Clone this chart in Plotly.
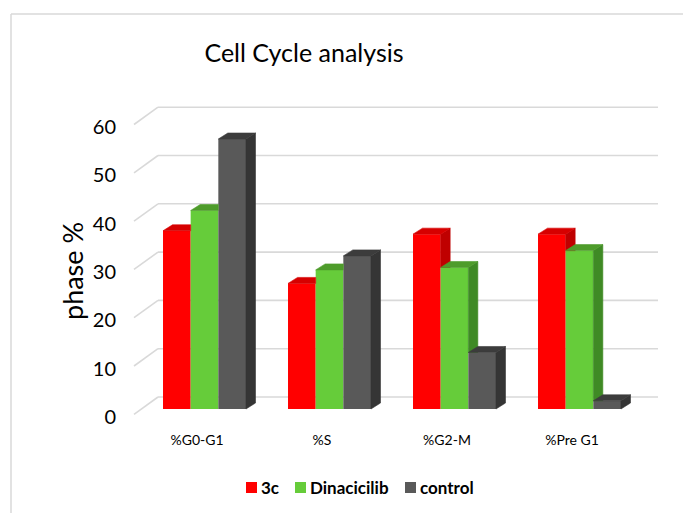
import plotly.graph_objects as go

# ---------------- data ----------------
categories = ["%G0-G1", "%S", "%G2-M", "%Pre G1"]
series_names = ["3c", "Dinacicilib", "control"]
vals_3c = [36.9, 26.0, 36.2, 36.2]
vals_dinaciclib = [41.1, 28.8, 29.3, 32.8]
vals_control = [55.9, 31.7, 11.7, 1.7]
y_ticks = [0, 10, 20, 30, 40, 50, 60]

series_values = [vals_3c, vals_dinaciclib, vals_control]

# ---------------- styling ----------------
front_colors = ["#FF0000", "#66CC3A", "#595959"]
side_colors = ["#BF0000", "#3F8A25", "#353535"]
top_colors = ["#D60000", "#4E9C2B", "#3C3C3C"]
grid_color = "#D9D9D9"
FONT = "Lato"

OFF = 8                                  # default page body margin
W, H = 691 - OFF, 513 - OFF              # figure size
# plot area in screen pixels
SL, SR, ST, SB = 119, 672, 90, 430
L, R, T, B = SL - OFF, W - (SR - OFF), ST - OFF, H - (SB - OFF)
PX_PER_UNIT = 4.83
BASE_PX = 409                            # screen pixel of value 0 on bar fronts
CAT0_PX, CAT_STEP = 204.5, 125.0

x_range = [(SL - CAT0_PX) / CAT_STEP, (SR - CAT0_PX) / CAT_STEP]
y_range = [(BASE_PX - SB) / PX_PER_UNIT, (BASE_PX - ST) / PX_PER_UNIT]

bar_w = 0.2213
group_half = 1.5 * bar_w
dx = 9.5 / CAT_STEP
dy = 6.0 / PX_PER_UNIT

fig = go.Figure()

# side & top faces
for k, vals in enumerate(series_values):
    nxt = series_values[k + 1] if k + 1 < len(series_values) else None
    sx, sy, tx, ty = [], [], [], []
    for i, v in enumerate(vals):
        x0 = i - group_half + k * bar_w
        x1 = x0 + bar_w
        vn = nxt[i] if nxt is not None else None
        if vn is None:
            sx += [x1, x1, x1 + dx, x1 + dx, x1, None]
            sy += [0, v, v + dy, dy, 0, None]
        elif v > vn:
            sx += [x1, x1, x1 + dx, x1 + dx, x1, None]
            sy += [vn, v, v + dy, vn, vn, None]
        if vn is not None and v < vn:
            tx += [x0, x1, x1, x0 + dx, x0, None]
            ty += [v, v, v + dy, v + dy, v, None]
        else:
            tx += [x0, x1, x1 + dx, x0 + dx, x0, None]
            ty += [v, v, v + dy, v + dy, v, None]
    if sx:
        fig.add_trace(go.Scatter(x=sx, y=sy, mode="lines", fill="toself",
                                 fillcolor=side_colors[k],
                                 line=dict(width=0.6, color=side_colors[k]),
                                 hoverinfo="skip", showlegend=False))
    fig.add_trace(go.Scatter(x=tx, y=ty, mode="lines", fill="toself",
                             fillcolor=top_colors[k],
                             line=dict(width=0.6, color=top_colors[k]),
                             hoverinfo="skip", showlegend=False))

# front faces
for k, vals in enumerate(series_values):
    fig.add_trace(go.Bar(
        x=list(range(len(categories))), y=vals, name=series_names[k],
        width=bar_w, offset=-group_half + k * bar_w,
        marker=dict(color=front_colors[k], line=dict(width=0)),
        showlegend=False,
    ))

# 3D gridlines
back_left = (158 - CAT0_PX) / CAT_STEP
back_right = (658 - CAT0_PX) / CAT_STEP
front_left = (134 - CAT0_PX) / CAT_STEP
back_off = (BASE_PX - 397) / PX_PER_UNIT
front_off = -1.1
shapes = []
for t in y_ticks:
    shapes.append(dict(type="line", xref="x", yref="y", layer="below",
                       x0=back_left, x1=back_right, y0=t + back_off, y1=t + back_off,
                       line=dict(color=grid_color, width=1.6)))
    shapes.append(dict(type="line", xref="x", yref="y", layer="below",
                       x0=front_left, x1=back_left, y0=t + front_off, y1=t + back_off,
                       line=dict(color=grid_color, width=1.6)))

def pxx(x):   # screen x -> paper
    return (x - SL) / (SR - SL)

def pxy(y):   # screen y -> paper
    return (SB - y) / (SB - ST)

# chart border (cropped on right/bottom in the original)
shapes.append(dict(type="line", xref="paper", yref="paper", x0=pxx(11), x1=pxx(11),
                   y0=pxy(14), y1=pxy(530), line=dict(color=grid_color, width=1.5)))
shapes.append(dict(type="line", xref="paper", yref="paper", x0=pxx(11), x1=pxx(710),
                   y0=pxy(14), y1=pxy(14), line=dict(color=grid_color, width=1.5)))

# legend
legend_sq_left = [246, 295, 405]
annotations = []
for k, name in enumerate(series_names):
    xl = legend_sq_left[k]
    shapes.append(dict(type="rect", xref="paper", yref="paper",
                       x0=pxx(xl), x1=pxx(xl + 11), y0=pxy(493), y1=pxy(482),
                       fillcolor=front_colors[k], line=dict(width=0)))
    annotations.append(dict(xref="paper", yref="paper", x=pxx(xl + 13), y=pxy(487),
                            text="<b>" + name + "</b>", showarrow=False,
                            xanchor="left", yanchor="middle",
                            font=dict(family=FONT, size=17, color="#000000")))

# y-axis title
annotations.append(dict(xref="paper", yref="paper", x=pxx(72), y=pxy(271),
                        text="phase %", textangle=-90, showarrow=False,
                        xanchor="center", yanchor="middle",
                        font=dict(family=FONT, size=27, color="#000000")))

fig.update_layout(
    width=W, height=H, autosize=False,
    margin=dict(l=L, r=R, t=T, b=B),
    paper_bgcolor="white", plot_bgcolor="white",
    barmode="overlay", showlegend=False,
    title=dict(text="Cell Cycle analysis", x=(304 - OFF) / W, y=1 - (53 - OFF) / H,
               xanchor="center", yanchor="middle", xref="container", yref="container",
               font=dict(family=FONT, size=25, color="#000000")),
    xaxis=dict(range=x_range, showgrid=False, zeroline=False, showline=False,
               tickmode="array", tickvals=[i - 0.06 for i in range(len(categories))],
               ticktext=categories, ticks="", fixedrange=True,
               tickfont=dict(family=FONT, size=14, color="#000000")),
    yaxis=dict(range=y_range, showgrid=False, zeroline=False, showline=False,
               tickmode="array", tickvals=[t - 1.63 for t in y_ticks],
               ticktext=[str(t) for t in y_ticks], ticks="", ticklabelstandoff=2,
               fixedrange=True,
               tickfont=dict(family=FONT, size=20, color="#000000")),
    shapes=shapes, annotations=annotations,
)

fig.write_html("out.html")
